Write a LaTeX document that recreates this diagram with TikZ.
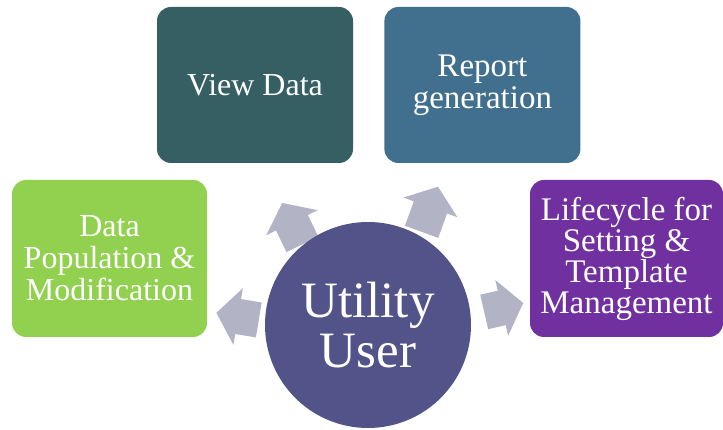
\documentclass[tikz,border=0pt]{standalone}
\usepackage{fontspec}
\setmainfont{Liberation Serif}
\usetikzlibrary{shapes.arrows, positioning}

\definecolor{viewcol}{HTML}{355F63}
\definecolor{reportcol}{HTML}{416F8E}
\definecolor{datacol}{HTML}{92D050}
\definecolor{lifecol}{HTML}{7030A0}
\definecolor{usercol}{HTML}{525489}
\definecolor{arrowcol}{HTML}{B3B3C6}

\begin{document}
\begin{tikzpicture}[x=1pt,y=1pt,
    box/.style={rectangle, rounded corners=14pt, minimum width=196pt, minimum height=156pt,
        inner sep=0pt, text=white, align=center, font=\fontsize{32}{32}\selectfont},
    blockarrow/.style={single arrow, fill=arrowcol, draw=none, inner xsep=0pt, inner ysep=17.5pt,
        text height=0pt, text depth=0pt, minimum height=#1, single arrow head extend=11pt,
        single arrow tip angle=105, anchor=tail}]

    \useasboundingbox (0,0) rectangle (723,430);

    \node[box, fill=viewcol] (view) at (255,345) {View Data};
    \node[box, fill=reportcol, right=31pt of view, font=\fontsize{33}{32}\selectfont] (report)
        {Report\\generation};
    \node[box, fill=datacol, minimum width=195pt, minimum height=157pt] (data) at (109.5,171.5)
        {Data\\Population \&\\Modification};
    \node[box, fill=lifecol, minimum width=193pt, minimum height=157pt,
        font=\fontsize{33}{31}\selectfont] (life) at (626.5,171.5)
        {Lifecycle for\\Setting \&\\Template\\Management};

    \node[blockarrow=46pt, rotate=116] (toview) at (302.5,185.5) {};
    \node[blockarrow=48pt, rotate=70] (toreport) at (421.5,198) {};
    \node[blockarrow=40pt, rotate=13] (tolife) at (484,118) {};
    \node[blockarrow=43pt, rotate=170.5] (todata) at (259,110) {};

    \node[circle, fill=usercol, minimum size=206pt, inner sep=0pt, text=white, align=center,
        font=\fontsize{51}{50}\selectfont] (user) at (368,105) {Utility\\User};
\end{tikzpicture}
\end{document}
